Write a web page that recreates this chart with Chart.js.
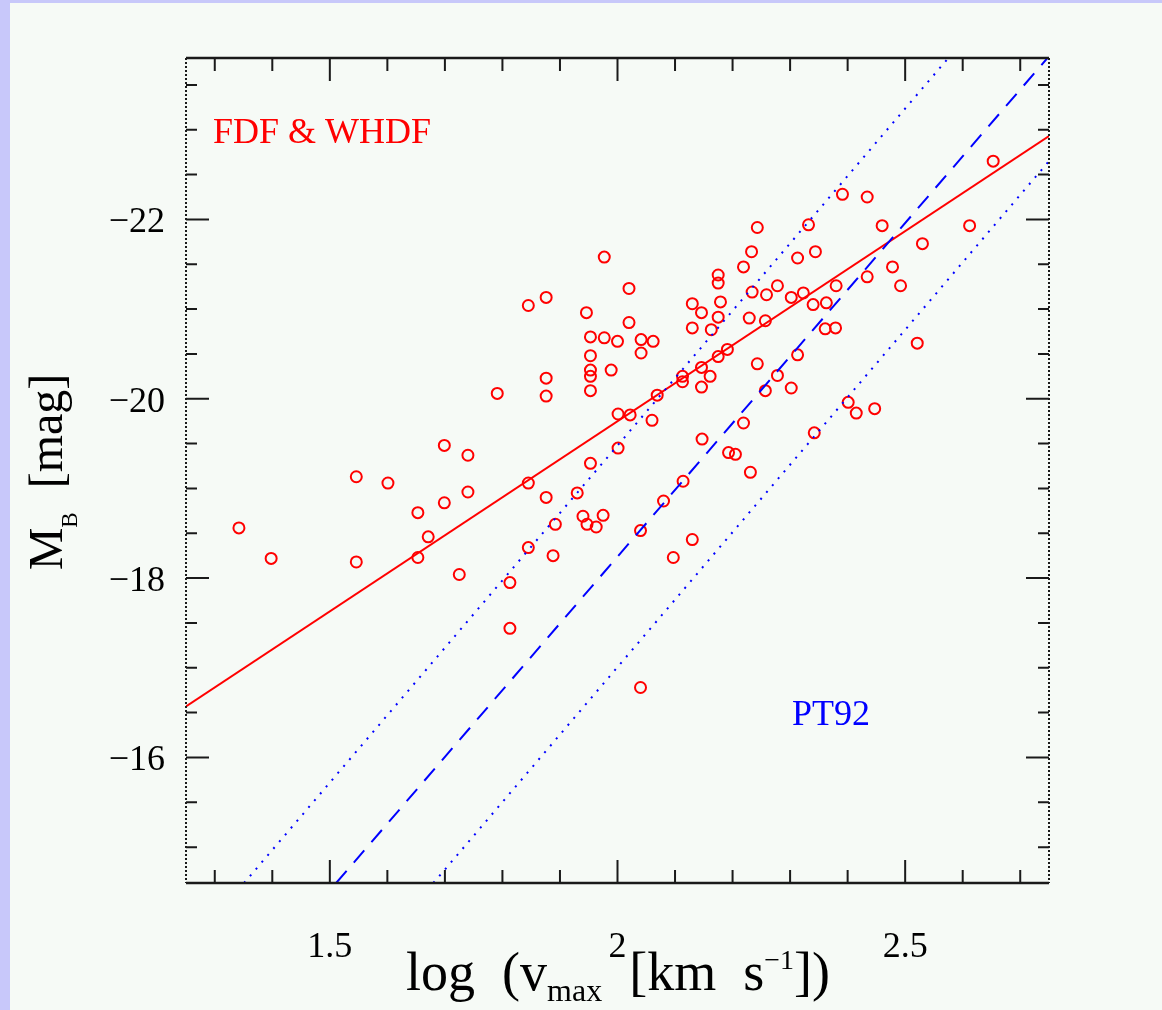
<!DOCTYPE html>
<html>
<head>
<meta charset="utf-8">
<title>Tully-Fisher relation</title>
<script src="https://cdn.jsdelivr.net/npm/chart.js@4.4.0/dist/chart.umd.min.js"></script>
<style>
  html, body { margin: 0; padding: 0; }
  body { background: #c8c8fa; width: 1162px; height: 1010px; overflow: hidden; position: relative; }
  #wrap { position: absolute; left: 10px; top: 3px; width: 1152px; height: 1007px; background: #f6faf6; }
  canvas { display: block; }
</style>
</head>
<body>
<div id="wrap"><canvas id="tfChart" width="1152" height="1007"></canvas></div>
<script>
// galaxies: log of max rotation velocity and absolute B magnitude
const logVmax = [
  1.342, 1.398, 1.546, 1.546, 1.601, 1.653, 1.653, 1.671, 1.699, 1.699,
  1.740, 1.740, 1.725, 1.791, 1.845, 1.876, 1.876, 1.876, 1.845, 1.888,
  1.813, 1.892, 1.930, 1.953, 1.813, 1.845, 1.876, 1.977, 2.020, 1.946,
  2.020, 1.953, 1.977, 2.000, 2.041, 2.062, 2.041, 1.953, 1.953, 1.989,
  1.953, 1.953, 1.940, 1.975, 1.947, 1.963, 2.001, 2.022, 2.060, 2.001,
  2.069, 2.040, 2.040, 2.080, 2.114, 2.097, 2.130, 2.147, 2.113, 2.113,
  2.146, 2.161, 2.146, 2.175, 2.175, 2.130, 2.146, 2.179, 2.175, 2.130,
  2.163, 2.191, 2.175, 2.193, 2.205, 2.231, 2.219, 2.243, 2.257, 2.278,
  2.302, 2.313, 2.229, 2.257, 2.219, 2.233, 2.243, 2.234, 2.259, 2.278,
  2.302, 2.323, 2.313, 2.344, 2.332, 2.391, 2.434, 2.340, 2.363, 2.380,
  2.361, 2.379, 2.342, 2.401, 2.415, 2.447, 2.434, 2.478, 2.492, 2.460,
  2.530, 2.521, 2.612, 2.653
];
const magB = [
  -18.56, -18.22, -19.13, -18.18, -19.06, -18.73, -18.23, -18.46, -19.48, -18.84,
  -19.37, -18.96, -18.04, -20.06, -19.06, -20.23, -20.03, -18.90, -18.34, -18.25,
  -17.95, -18.60, -18.95, -19.28, -17.44, -21.04, -21.13, -21.58, -21.23, -20.96,
  -20.85, -20.69, -20.68, -20.64, -20.66, -20.64, -20.51, -20.48, -20.32, -20.32,
  -20.25, -20.09, -18.69, -18.70, -18.60, -18.57, -19.83, -19.82, -19.76, -19.45,
  -20.04, -18.53, -16.78, -18.86, -19.08, -18.23, -18.43, -19.55, -20.25, -20.19,
  -20.35, -20.25, -20.13, -21.38, -21.29, -21.06, -20.96, -21.08, -20.91, -20.79,
  -20.77, -20.55, -20.47, -19.40, -19.38, -19.18, -19.73, -20.39, -20.09, -20.26,
  -20.12, -20.49, -20.90, -20.87, -21.47, -21.64, -21.91, -21.19, -21.16, -21.26,
  -21.13, -21.18, -21.57, -21.64, -21.94, -22.28, -22.25, -21.05, -21.07, -21.26,
  -20.78, -20.79, -19.62, -19.96, -19.84, -19.89, -21.36, -21.47, -21.26, -21.93,
  -21.73, -20.62, -21.93, -22.65
];

// fitted relation to the sample
const fitX = [1.25, 2.75];
const fitM = [-16.57, -22.93];

// PT92 relation and its scatter band
const pt92X = [1.511, 2.75];
const pt92M = [-14.6, -23.82];
const pt92UpperX = [1.351, 2.575];
const pt92UpperM = [-14.6, -23.8];
const pt92LowerX = [1.680, 2.75];
const pt92LowerM = [-14.6, -22.65];

// axis ticks
const xRange = [1.25, 2.75];
const yRange = [-23.8, -14.6];
const xTickLabels = [1.5, 2, 2.5];
const yTickLabels = [-22, -20, -18, -16];

const toPoints = (xs, ys) => xs.map((v, i) => ({ x: v, y: ys[i] }));

const SERIF = '"Liberation Serif", "DejaVu Serif", serif';

function drawRuns(ctx, runs, cx, baseY) {
    let total = 0;
    runs.forEach(r => {
        ctx.font = `${r.size}px ${SERIF}`;
        r.w = ctx.measureText(r.text).width;
        total += r.w;
    });
    let xx = cx - total / 2;
    runs.forEach(r => {
        ctx.font = `${r.size}px ${SERIF}`;
        ctx.fillText(r.text, xx, baseY + r.dy);
        xx += r.w;
    });
}

const framePlugin = {
    id: 'frame',
    afterDatasetsDraw(chart) {
        const { ctx, chartArea: a, scales: { x, y } } = chart;
        ctx.save();
        ctx.strokeStyle = '#1a1a1a';
        ctx.fillStyle = '#000';

        // box
        ctx.lineWidth = 2.5;
        ctx.beginPath();
        ctx.moveTo(a.left, a.top); ctx.lineTo(a.right, a.top);
        ctx.moveTo(a.left, a.bottom); ctx.lineTo(a.right, a.bottom);
        ctx.stroke();
        ctx.lineWidth = 2;
        ctx.setLineDash([2, 2]);
        ctx.beginPath();
        ctx.moveTo(a.left, a.top); ctx.lineTo(a.left, a.bottom);
        ctx.moveTo(a.right, a.top); ctx.lineTo(a.right, a.bottom);
        ctx.stroke();
        ctx.setLineDash([]);

        // inward ticks, x every 0.1, y every 0.5
        ctx.lineWidth = 2;
        ctx.beginPath();
        for (let i = 13; i <= 27; i++) {
            const px = x.getPixelForValue(i / 10);
            const len = i % 5 === 0 ? 23 : 13;
            ctx.moveTo(px, a.bottom); ctx.lineTo(px, a.bottom - len);
            ctx.moveTo(px, a.top); ctx.lineTo(px, a.top + len);
        }
        for (let i = -47; i <= -30; i++) {
            const py = y.getPixelForValue(i / 2);
            const len = i % 4 === 0 ? 23 : 11;
            ctx.moveTo(a.left, py); ctx.lineTo(a.left + len, py);
            ctx.moveTo(a.right, py); ctx.lineTo(a.right - len, py);
        }
        ctx.stroke();

        // tick labels
        ctx.font = `36px ${SERIF}`;
        ctx.textBaseline = 'alphabetic';
        ctx.textAlign = 'center';
        xTickLabels.forEach(v => {
            ctx.fillText(String(v), x.getPixelForValue(v), a.bottom + 74);
        });
        ctx.textAlign = 'right';
        yTickLabels.forEach(v => {
            ctx.fillText('\u2212' + Math.abs(v), a.left - 21, y.getPixelForValue(v) + 13);
        });

        // axis titles
        ctx.textAlign = 'left';
        drawRuns(ctx, [
            { text: 'log  (v', size: 54, dy: 0 },
            { text: 'max', size: 32, dy: 11 },
            { text: '  [km  s', size: 54, dy: 0 },
            { text: '\u22121', size: 28, dy: -21 },
            { text: '])', size: 54, dy: 0 }
        ], 608, a.bottom + 107);

        ctx.save();
        ctx.translate(52, 469);
        ctx.rotate(-Math.PI / 2);
        drawRuns(ctx, [
            { text: 'M', size: 48, dy: 0 },
            { text: 'B', size: 23, dy: 15 },
            { text: '  [mag]', size: 48, dy: 0 }
        ], 0, 0);
        ctx.restore();

        // sample labels
        ctx.font = `36px ${SERIF}`;
        ctx.fillStyle = '#ff0000';
        ctx.fillText('FDF & WHDF', 203, 140);
        ctx.fillStyle = '#0000ff';
        ctx.fillText('PT92', 782, 722);

        ctx.restore();
    }
};

new Chart(document.getElementById('tfChart'), {
    type: 'scatter',
    data: {
        datasets: [
            {
                label: 'PT92',
                data: toPoints(pt92X, pt92M),
                showLine: true,
                borderColor: '#0000ff',
                borderWidth: 2,
                borderDash: [16, 11],
                pointRadius: 0
            },
            {
                label: 'PT92 upper',
                data: toPoints(pt92UpperX, pt92UpperM),
                showLine: true,
                borderColor: '#0000ff',
                borderWidth: 2,
                borderDash: [2, 7],
                pointRadius: 0
            },
            {
                label: 'PT92 lower',
                data: toPoints(pt92LowerX, pt92LowerM),
                showLine: true,
                borderColor: '#0000ff',
                borderWidth: 2,
                borderDash: [2, 7],
                pointRadius: 0
            },
            {
                label: 'fit',
                data: toPoints(fitX, fitM),
                showLine: true,
                borderColor: '#ff0000',
                borderWidth: 2,
                pointRadius: 0
            },
            {
                label: 'FDF & WHDF',
                data: toPoints(logVmax, magB),
                pointStyle: 'circle',
                pointRadius: 5.5,
                borderWidth: 2,
                borderColor: '#ff0000',
                backgroundColor: 'rgba(0,0,0,0)'
            }
        ]
    },
    options: {
        responsive: false,
        animation: false,
        layout: {
            padding: { left: 176, top: 55, right: 113, bottom: 127 }
        },
        plugins: {
            legend: { display: false },
            tooltip: { enabled: false }
        },
        scales: {
            x: { type: 'linear', min: xRange[0], max: xRange[1], display: false },
            y: { type: 'linear', min: yRange[0], max: yRange[1], reverse: true, display: false }
        }
    },
    plugins: [framePlugin]
});
</script>
</body>
</html>
